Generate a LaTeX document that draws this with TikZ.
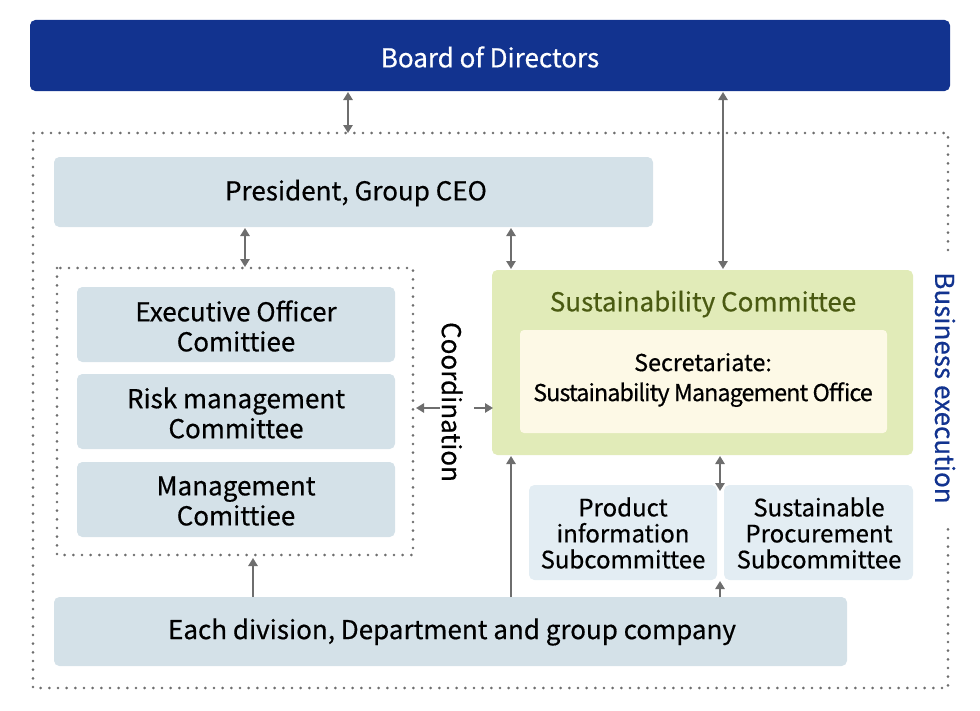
\documentclass[tikz,border=0pt]{standalone}
\usepackage{fontspec}
\setmainfont{Noto Sans CJK JP}[FakeBold=0.5]
\usetikzlibrary{arrows.meta}
\definecolor{navy}{HTML}{12338F}
\definecolor{boxb}{HTML}{D4E1E8}
\definecolor{subb}{HTML}{E3EDF3}
\definecolor{grn}{HTML}{E1EBB8}
\definecolor{grnt}{HTML}{4A5A12}
\definecolor{cream}{HTML}{FDF9E6}
\definecolor{arr}{HTML}{6E6E6E}
\begin{document}
\begin{tikzpicture}[x=0.75pt,y=-0.75pt,
  box/.style={fill=boxb,rounded corners=4pt},
  dots/.style={draw=arr,line width=2.2pt,dash pattern=on 0pt off 6.5pt,line cap=round},
  ar/.style={draw=arr,line width=1.3pt,-{Triangle[length=6pt,width=7pt]}},
  dar/.style={draw=arr,line width=1.3pt,{Triangle[length=6pt,width=7pt]}-{Triangle[length=6pt,width=7pt]}},
  txt/.style={font=\fontsize{19.5}{22.5}\selectfont,align=center}]
\useasboundingbox (0,0) rectangle (980,710);
\fill[navy,rounded corners=4pt] (30,20) rectangle (950,91);
\node[txt,text=white] (board) at (490,57) {Board of Directors};
% outer dotted
\draw[dots] (948,250) -- (948,133) -- (33,133) -- (33,688) -- (948,688) -- (948,525);
\node[txt,text=navy,rotate=-90] (be) at (945,388) {Business execution};
\fill[box] (54,157) rectangle (653,227);
\node[txt] (pres) at (356,193) {President, Group CEO};
\draw[dots] (57,268) rectangle (413,555);
\foreach \y/\t in {287/{Executive Officer\\Comittiee},374/{Risk management\\Committee},462/{Management\\Comittiee}}{
  \fill[box] (77,\y) rectangle (395,\y+75);
  \node[txt] at (236,\y+39) {\t};}
\node[txt,rotate=-90] (coord) at (452,402) {Coordination};
\fill[grn,rounded corners=4pt] (492,270) rectangle (913,455);
\node[txt,text=grnt] (sc) at (703,304) {Sustainability Committee};
\fill[cream,rounded corners=3pt] (520,330) rectangle (887,433);
\node[font=\fontsize{17.5}{22.5}\selectfont,align=center] (sec) at (703,380) {Secretariate:\\\addfontfeatures{LetterSpace=-4}Sustainability Management Office};
\fill[subb,rounded corners=4pt] (529,485) rectangle (717,580);
\fill[subb,rounded corners=4pt] (724,485) rectangle (913,580);
\node[txt,font=\fontsize{18}{19.5}\selectfont] (s1) at (623,533) {Product\\information\\Subcommittee};
\node[txt,font=\fontsize{18}{19.5}\selectfont] (s2) at (819,533) {Sustainable\\Procurement\\Subcommittee};
\fill[box] (54,597) rectangle (847,666);
\node[txt] (bot) at (452,632) {Each division, Department and group company};
% arrows
\draw[dar] (348,92) -- (348,133);
\draw[dar] (723,92) -- (723,269);
\draw[dar] (245,228) -- (245,267);
\draw[dar] (511,228) -- (511,269);
\draw[ar] (440,408) -- (416,408);
\draw[ar] (474,408) -- (493,408);
\draw[dar] (720,456) -- (720,491);
\draw[ar] (253,597) -- (253,558);
\draw[ar] (511,597) -- (511,456);
\draw[ar] (720,597) -- (720,581);
\end{tikzpicture}
\end{document}
